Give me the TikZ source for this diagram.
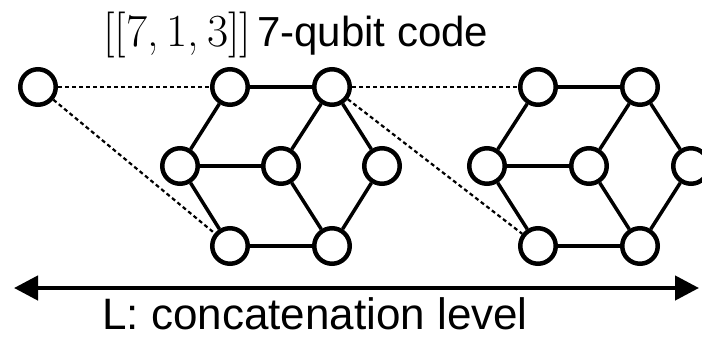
\documentclass[tikz,border=0pt]{standalone}
\usepackage{fontspec}
\setsansfont{Liberation Sans}
\newfontfamily\cmfont{Latin Modern Roman}
\usetikzlibrary{arrows.meta}
\tikzset{
  qubit/.style={circle, draw=black, line width=4.5pt, minimum size=35.5pt, inner sep=0pt, fill=white},
  edge/.style={line width=3.5pt, draw=black},
  link/.style={line width=2.2pt, draw=black, dash pattern=on 4pt off 3pt},
  levelarrow/.style={line width=4.5pt, {Triangle[length=24pt,width=24pt]}-{Triangle[length=24pt,width=24pt]}},
  label/.style={inner sep=0pt, anchor=base west}
}
\begin{document}
\begin{tikzpicture}[x=1pt,y=-1pt]
\useasboundingbox[fill=white] (0,0) rectangle (702,338);
% lone qubit
\node[qubit] (q0) at (38,87) {};
% first block
\node[qubit] (aTL) at (230,87) {};
\node[qubit] (aTR) at (332,87) {};
\node[qubit] (aL) at (180,166) {};
\node[qubit] (aC) at (281,166) {};
\node[qubit] (aR) at (382,166) {};
\node[qubit] (aBL) at (230,246) {};
\node[qubit] (aBR) at (332,246) {};
% second block
\node[qubit] (bTL) at (538,87) {};
\node[qubit] (bTR) at (640,87) {};
\node[qubit] (bL) at (487,166) {};
\node[qubit] (bC) at (589,166) {};
\node[qubit] (bR) at (691,166) {};
\node[qubit] (bBL) at (538,246) {};
\node[qubit] (bBR) at (640,246) {};
\foreach \p in {a,b}{
  \draw[edge] (\p TL) -- (\p TR);
  \draw[edge] (\p TL) -- (\p L);
  \draw[edge] (\p L) -- (\p C);
  \draw[edge] (\p L) -- (\p BL);
  \draw[edge] (\p TR) -- (\p C);
  \draw[edge] (\p TR) -- (\p R);
  \draw[edge] (\p C) -- (\p BR);
  \draw[edge] (\p R) -- (\p BR);
  \draw[edge] (\p BL) -- (\p BR);
}
\draw[link] (q0) -- (aTL);
\draw[link] (q0) -- (aBL);
\draw[link] (aTR) -- (bTL);
\draw[link] (aTR) -- (bBL);
% arrow
\coordinate (arrL) at (14,288);
\coordinate (arrR) at (699,288);
\draw[levelarrow] (arrL) -- (arrR);
% labels
\node[label] (title) at (103,46) {{\cmfont\fontsize{46}{50}\selectfont [[7,\kern0.17em 1,\kern0.17em 3]]}\hspace{6pt}{\sffamily\fontsize{42}{50}\selectfont 7-qubit code}};
\node[label] (level) at (102,329) {\sffamily\fontsize{44}{50}\selectfont L: concatenation level};
\end{tikzpicture}
\end{document}
